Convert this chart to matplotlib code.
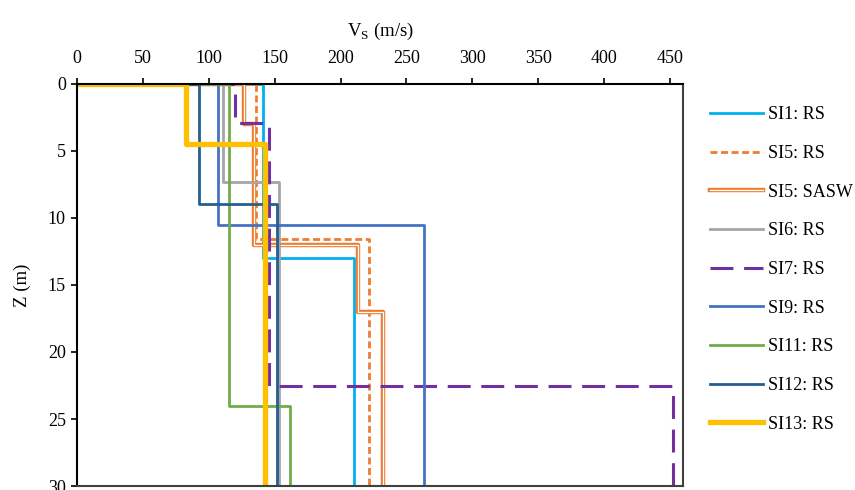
import matplotlib
matplotlib.use("Agg")
import matplotlib.pyplot as plt
import matplotlib.patheffects as pe

plt.rcParams["font.family"] = ["Liberation Serif", "DejaVu Serif"]
plt.rcParams["mathtext.fontset"] = "custom"
plt.rcParams["mathtext.rm"] = "Liberation Serif"
plt.rcParams["font.size"] = 13

# layer velocities (m/s) and layer boundaries (m) for each profile
si1_vs = [141, 210]
si1_z = [0, 13, 30]
si5_rs_vs = [136, 221.5]
si5_rs_z = [0, 11.6, 30]
si5_sasw_vs = [127, 134, 213, 232.5]
si5_sasw_z = [0, 3, 12, 17, 30]
si6_vs = [110.5, 153.5]
si6_z = [0, 7.3, 30]
si7_vs = [120, 145.7, 452]
si7_z = [0, 2.9, 22.5, 30]
si9_vs = [107, 263.3]
si9_z = [0, 10.5, 30]
si11_vs = [115.3, 161.6]
si11_z = [0, 24, 30]
si12_vs = [92.8, 151.5]
si12_z = [0, 9, 30]
si13_vs = [83, 142.6]
si13_z = [0, 4.5, 30]

labels = ["SI1: RS", "SI5: RS", "SI5: SASW", "SI6: RS", "SI7: RS",
          "SI9: RS", "SI11: RS", "SI12: RS", "SI13: RS"]


def step_profile(vs, z):
    # start at the origin, then walk down the layers
    xs, ys = [0], [z[0]]
    for i, v in enumerate(vs):
        xs += [v, v]
        ys += [z[i], z[i + 1]]
    return xs, ys


fig = plt.figure(figsize=(8.55, 4.9), dpi=100)
ax = fig.add_axes([0.090, 0.008, 0.709, 0.821])

lw = 2.0
x, y = step_profile(si1_vs, si1_z)
ax.plot(x, y, color="#00B0F0", lw=lw, label=labels[0])
x, y = step_profile(si5_rs_vs, si5_rs_z)
ax.plot(x, y, color="#ED7D31", lw=lw, dashes=(2.5, 1.3), label=labels[1])
x, y = step_profile(si5_sasw_vs, si5_sasw_z)
ax.plot(x, y, color="white", lw=0.9, label=labels[2],
        path_effects=[pe.Stroke(linewidth=3.2, foreground="#ED7D31"), pe.Normal()])
x, y = step_profile(si6_vs, si6_z)
ax.plot(x, y, color="#A5A5A5", lw=lw, label=labels[3])
x, y = step_profile(si7_vs, si7_z)
ax.plot(x, y, color="#7030A0", lw=2.2, dashes=(7.5, 3.5), label=labels[4])
x, y = step_profile(si9_vs, si9_z)
ax.plot(x, y, color="#4472C4", lw=lw, label=labels[5])
x, y = step_profile(si11_vs, si11_z)
ax.plot(x, y, color="#70AD47", lw=lw, label=labels[6])
x, y = step_profile(si12_vs, si12_z)
ax.plot(x, y, color="#255E91", lw=lw, label=labels[7])
x, y = step_profile(si13_vs, si13_z)
ax.plot(x, y, color="#FFC000", lw=3.8, label=labels[8])

ax.set_xlim(0, 460)
ax.set_ylim(30, 0)
ax.set_xticks(range(0, 451, 50))
ax.set_yticks(range(0, 31, 5))
ax.xaxis.tick_top()
ax.xaxis.set_label_position("top")
ax.tick_params(axis="x", direction="out", length=4, width=1.2, pad=8, labelsize=13)
ax.tick_params(axis="y", direction="out", length=4, width=1.2, pad=4, labelsize=13)
ax.set_xlabel("V$_\\mathrm{S}$ (m/s)", fontsize=13.5, labelpad=10)
ax.set_ylabel("Z (m)", fontsize=13.5, labelpad=12)
for s in ax.spines.values():
    s.set_linewidth(1.5)
    s.set_color("black")
ax.spines["right"].set_color("#404040")
ax.spines["bottom"].set_color("#404040")

fig.legend(loc="upper left", bbox_to_anchor=(0.830, 0.783), frameon=False,
           borderpad=0, borderaxespad=0, handlelength=2.95, handletextpad=0.28,
           labelspacing=1.2, fontsize=13)

fig.savefig("out.png", dpi=100)
